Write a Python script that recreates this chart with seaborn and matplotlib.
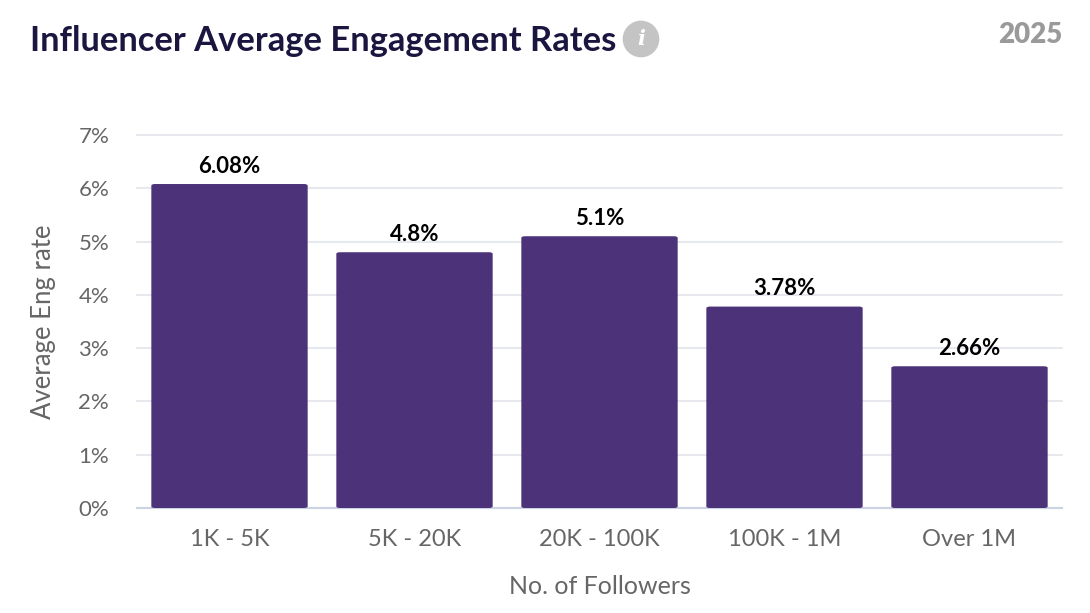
import pandas as pd
import seaborn as sns
import matplotlib.pyplot as plt
from matplotlib.patches import FancyBboxPatch

followers = ['1K - 5K', '5K - 20K', '20K - 100K', '100K - 1M', 'Over 1M']
eng_rate = [6.08, 4.8, 5.1, 3.78, 2.66]
bar_labels = ['6.08%', '4.8%', '5.1%', '3.78%', '2.66%']
y_ticks = [0, 1, 2, 3, 4, 5, 6, 7]

sns.set_theme(style='white')
plt.rcParams['font.family'] = ['Lato', 'DejaVu Sans']

df = pd.DataFrame({'followers': followers, 'rate': eng_rate})

W, H = 1090, 613
fig = plt.figure(figsize=(W / 100, H / 100), dpi=100)
ax = fig.add_axes([137 / W, 1 - 508 / H, (1062 - 137) / W, (508 - 135) / H])

sns.barplot(data=df, x='followers', y='rate', color='#4b3279', saturation=1, width=0.845, ax=ax)

# swap the square bars for slightly rounded ones
for patch in list(ax.patches):
    x, y = patch.get_x(), patch.get_y()
    w, h = patch.get_width(), patch.get_height()
    patch.remove()
    ax.add_patch(FancyBboxPatch((x, y), w, h, boxstyle='round,pad=0,rounding_size=0.02',
                                mutation_aspect=1.4, fc='#4b3279', ec='none', zorder=3))

for i, v in enumerate(eng_rate):
    ax.text(i, v + 0.14, bar_labels[i], ha='center', va='bottom', fontsize=16,
            fontweight='bold', color='black')

ax.set_xlim(-0.5, 4.5)
ax.set_ylim(0, 7)
ax.set_yticks(y_ticks)
ax.set_yticklabels([f'{t}%' for t in y_ticks])
ax.grid(axis='y', color='#e6e8ee', linewidth=1.5, clip_on=False)
ax.set_axisbelow(True)
sns.despine(ax=ax, left=True)
ax.spines['bottom'].set_color('#ccd3e4')
ax.spines['bottom'].set_linewidth(1.5)
ax.tick_params(axis='y', length=0, labelsize=16, labelcolor='#666666', pad=20)
ax.tick_params(axis='x', length=0, labelsize=17, labelcolor='#666666', pad=15)
ax.set_xlabel('No. of Followers', fontsize=18, color='#666666', labelpad=18)
ax.set_ylabel('Average Eng rate', fontsize=18.5, color='#666666', labelpad=16)

fig.text(30 / W, 1 - 41 / H, 'Influencer Average Engagement Rates', fontsize=24.8,
         fontweight='bold', color='#1b1640', va='center', ha='left')
fig.text(1062 / W, 1 - 35 / H, '2025', fontsize=20, fontweight='heavy', color='#9a9a9a',
         va='center', ha='right')

# info badge next to the title
fig.text(641 / W, 1 - 39 / H, 'i', fontsize=15, fontweight='bold', fontstyle='italic', color='white',
         va='center', ha='center', family=['DejaVu Serif'],
         bbox=dict(boxstyle='circle,pad=0.4', fc='#c4c4c4', ec='none'))

fig.savefig('out.png', dpi=100)
